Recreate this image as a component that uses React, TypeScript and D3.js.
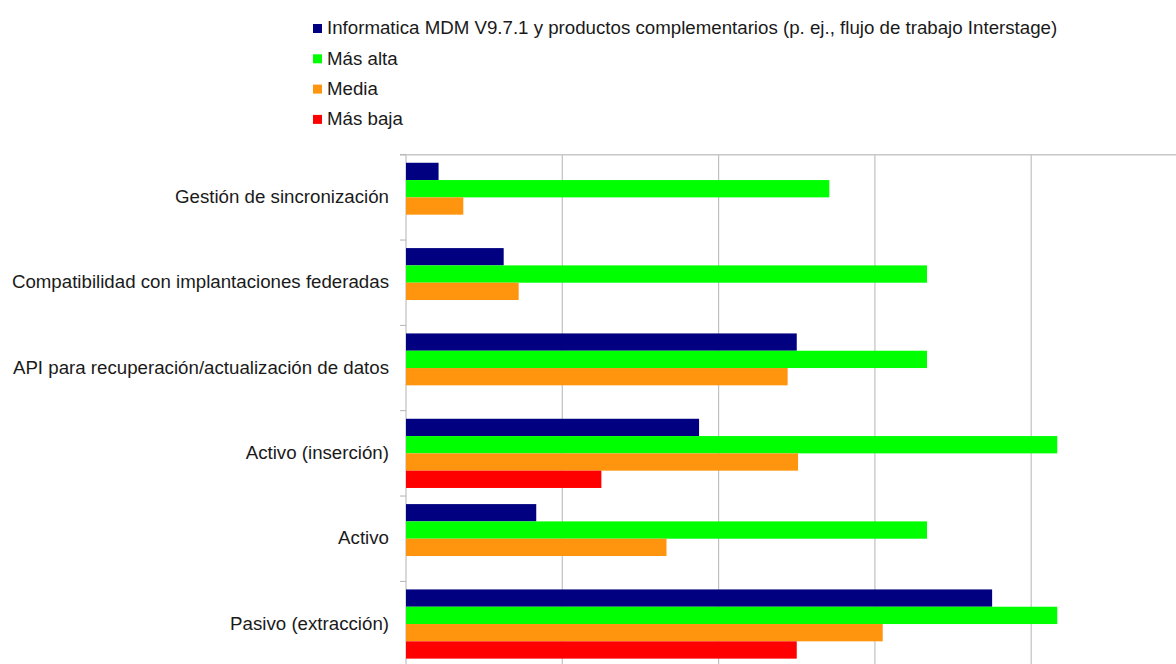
import React from "react";
import * as d3 from "d3";

const categories = [
  "Gestión de sincronización",
  "Compatibilidad con implantaciones federadas",
  "API para recuperación/actualización de datos",
  "Activo (inserción)",
  "Activo",
  "Pasivo (extracción)",
];

const seriesNames = [
  "Informatica MDM V9.7.1 y productos complementarios (p. ej., flujo de trabajo Interstage)",
  "Más alta",
  "Media",
  "Más baja",
];

const informatica = [0.25, 0.75, 3.0, 2.25, 1.0, 4.5];
const masAlta = [3.25, 4.0, 4.0, 5.0, 4.0, 5.0];
const media = [0.44, 0.865, 2.93, 3.01, 2.0, 3.66];
const masBaja: (number | null)[] = [null, null, null, 1.5, null, 3.0];

const xTicks = [0, 1.2, 2.4, 3.6, 4.8, 6];

const colors = ["#000080", "#00ff00", "#ff950e", "#ff0000"];

const W = 1176;
const H = 664;

export default function App() {
  const seriesValues = [informatica, masAlta, media, masBaja];
  const x = d3.scaleLinear().domain([0, 6]).range([406, 1187.5]);
  const y = d3.scaleBand<string>().domain(categories).range([154.7, 666.7]).padding(0);
  const sub = d3
    .scaleBand<string>()
    .domain(seriesNames)
    .range([0, y.step()])
    .paddingInner(0)
    .paddingOuter(0.466);

  const font = "'Liberation Sans', Arial, sans-serif";
  const top = y.range()[0];
  const bottom = y.range()[1];
  const fs = 18.7;

  return (
    <svg
      width={W}
      height={H}
      style={{ position: "absolute", left: 0, top: 0, background: "#fff" }}
      fontFamily={font}
    >
      <rect x={0} y={0} width={W} height={H} fill="#fff" />
      {/* legend */}
      {seriesNames.map((s, i) => (
        <g key={s}>
          <rect x={313} y={24 + i * 30.3} width={9} height={9} fill={colors[i]} />
          <text x={327} y={34.3 + i * 30.3} fontSize={fs} fill="#1a1a1a">
            {s}
          </text>
        </g>
      ))}
      {/* grid */}
      {xTicks.map((t) => (
        <line
          key={t}
          x1={x(t)}
          x2={x(t)}
          y1={top}
          y2={bottom}
          stroke="#c0c0c0"
          strokeWidth={1.2}
        />
      ))}
      <line x1={400} x2={W} y1={top} y2={top} stroke="#c8c8c8" strokeWidth={1.5} />
      {/* category ticks */}
      {categories.map((c) => (
        <line
          key={c}
          x1={400}
          x2={x(0)}
          y1={y(c)!}
          y2={y(c)!}
          stroke="#b3b3b3"
          strokeWidth={1}
        />
      ))}
      {/* bars */}
      {categories.map((c, ci) =>
        seriesNames.map((s, si) => {
          const v = seriesValues[si][ci];
          if (v == null) return null;
          return (
            <rect
              key={c + s}
              x={x(0)}
              y={y(c)! + sub(s)!}
              width={x(v) - x(0)}
              height={sub.bandwidth()}
              fill={colors[si]}
            />
          );
        })
      )}
      {/* category labels */}
      {categories.map((c) => (
        <text
          key={c}
          x={389}
          y={y(c)! + y.bandwidth() / 2}
          dy="0.3em"
          textAnchor="end"
          fontSize={fs}
          fill="#1a1a1a"
        >
          {c}
        </text>
      ))}
    </svg>
  );
}
